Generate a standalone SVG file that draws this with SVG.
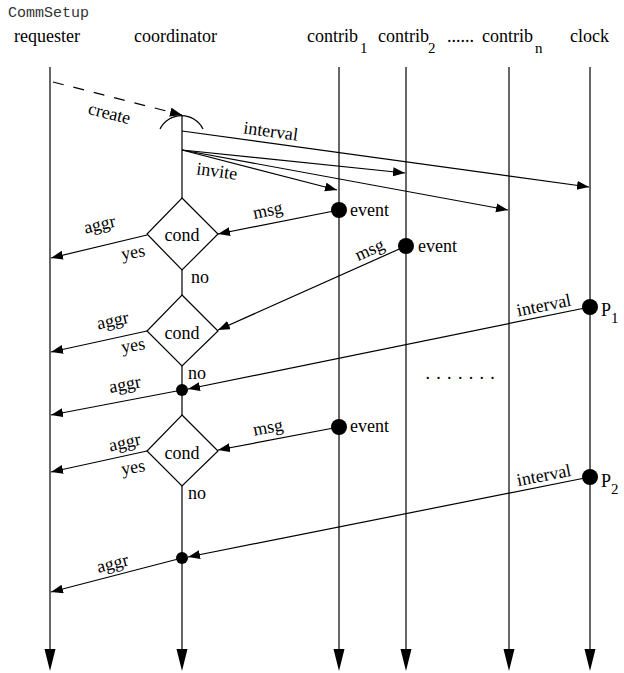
<svg xmlns="http://www.w3.org/2000/svg" width="624" height="673" viewBox="0 0 624 673">
<style>
  text { font-family: "Liberation Serif", "DejaVu Serif", "Times New Roman", Times, serif; font-size: 18px; fill: #000; }
  text.mono { font-family: "Liberation Mono", "DejaVu Sans Mono", "Courier New", monospace; font-size: 15px; fill: #333; }
  .sub { font-size: 15px; }
  .mid { text-anchor: middle; }
  .life { stroke: #000; stroke-width: 1.2; fill: none; }
  .msg { stroke: #000; stroke-width: 1.2; fill: none; marker-end: url(#ah); }
  .dash { stroke-dasharray: 11 10; }
  .dia { fill: #fff; stroke: #000; stroke-width: 1.2; }
  .dot { fill: #000; }
  .end { fill: #000; }
</style>
<defs>
  <marker id="ah" markerUnits="userSpaceOnUse" markerWidth="13" markerHeight="10" refX="12" refY="4.5" orient="auto">
    <path d="M0,0 L12,4.5 L0,9 z" fill="#000"/>
  </marker>
</defs>

<text class="mono" x="8" y="17">CommSetup</text>

<g id="requester">
  <text x="14" y="42">requester</text>
  <path class="life" d="M50,67 V652"/>
  <polygon class="end" points="44.5,649 55.5,649 50,671"/>
</g>
<g id="coordinator">
  <text x="134" y="42">coordinator</text>
  <path class="life" d="M182,115 V198 M182,270 V295 M182,366 V415 M182,486 V652"/>
  <polygon class="end" points="176.5,649 187.5,649 182,671"/>
</g>
<g id="contrib1">
  <text x="307" y="42">contrib</text><text class="sub" x="360" y="53">1</text>
  <path class="life" d="M339,67 V652"/>
  <polygon class="end" points="333.5,649 344.5,649 339,671"/>
</g>
<g id="contrib2">
  <text x="378" y="42">contrib</text><text class="sub" x="428" y="53">2</text>
  <path class="life" d="M406,67 V652"/>
  <polygon class="end" points="400.5,649 411.5,649 406,671"/>
</g>
<text x="447" y="42">......</text>
<g id="contribn">
  <text x="482" y="42">contrib</text><text class="sub" x="535" y="53">n</text>
  <path class="life" d="M509,67 V652"/>
  <polygon class="end" points="503.5,649 514.5,649 509,671"/>
</g>
<g id="clock">
  <text x="570" y="42">clock</text>
  <path class="life" d="M590,67 V652"/>
  <polygon class="end" points="584.5,649 595.5,649 590,671"/>
</g>

<g id="connectors">
  <path class="msg dash" d="M53,82 L182,115"/>
  <path class="life" d="M160,129 A24,24 0 0 1 203,129"/>
  <path class="msg" d="M182,131 L589,187"/>
  <path class="msg" d="M182,150 L337,190"/>
  <path class="msg" d="M182,150 L405,173"/>
  <path class="msg" d="M182,150 L508,210"/>
  <path class="msg" d="M147,235 L51,258"/>
  <path class="msg" d="M339,210 L218,234"/>
  <path class="msg" d="M406,246 L218,330"/>
  <path class="msg" d="M147,331 L51,352"/>
  <path class="msg" d="M590,307 L188,389"/>
  <path class="msg" d="M182,390 L51,415"/>
  <path class="msg" d="M339,427 L218,450"/>
  <path class="msg" d="M147,451 L51,472"/>
  <path class="msg" d="M590,477 L188,557"/>
  <path class="msg" d="M182,558 L51,592"/>
</g>

<g id="labels">
  <text class="mid" x="108" y="119" transform="rotate(14 108 119)">create</text>
  <text class="mid" x="270" y="137" transform="rotate(7.8 270 137)">interval</text>
  <text class="mid" x="216" y="177" transform="rotate(8 216 177)">invite</text>
  <text class="mid" x="101" y="230" transform="rotate(-13.3 101 230)">aggr</text>
  <text class="mid" x="269" y="216" transform="rotate(-11.7 269 216)">msg</text>
  <text class="mid" x="372" y="255" transform="rotate(-24.4 372 255)">msg</text>
  <text class="mid" x="114" y="326" transform="rotate(-12.2 114 326)">aggr</text>
  <text class="mid" x="545" y="311" transform="rotate(-11.5 545 311)">interval</text>
  <text class="mid" x="126" y="390" transform="rotate(-10.8 126 390)">aggr</text>
  <text class="mid" x="269" y="433" transform="rotate(-10.8 269 433)">msg</text>
  <text class="mid" x="126" y="448" transform="rotate(-12.3 126 448)">aggr</text>
  <text class="mid" x="545" y="481" transform="rotate(-11.1 545 481)">interval</text>
  <text class="mid" x="114" y="569" transform="rotate(-14.7 114 569)">aggr</text>
  <text x="425.5" y="378.5" letter-spacing="6.3">.......</text>
</g>

<g id="cond1">
  <polygon class="dia" points="182,198 218,234 182,270 147,234"/>
  <text class="mid" x="182" y="241">cond</text>
  <text class="mid" x="134" y="258" transform="rotate(-10 134 258)">yes</text>
  <text x="191" y="283">no</text>
</g>
<g id="cond2">
  <polygon class="dia" points="182,295 218,331 182,366 147,331"/>
  <text class="mid" x="182" y="339">cond</text>
  <text class="mid" x="134" y="351" transform="rotate(-10 134 351)">yes</text>
  <text x="188" y="379">no</text>
</g>
<g id="cond3">
  <polygon class="dia" points="182,415 218,451 182,486 147,451"/>
  <text class="mid" x="182" y="459">cond</text>
  <text class="mid" x="134" y="473" transform="rotate(-10 134 473)">yes</text>
  <text x="188" y="499">no</text>
</g>

<g id="event1"><circle class="dot" cx="339" cy="210" r="8"/><text x="350" y="216">event</text></g>
<g id="event2"><circle class="dot" cx="406" cy="246" r="8"/><text x="418" y="252">event</text></g>
<g id="event3"><circle class="dot" cx="339" cy="427" r="8"/><text x="350" y="432">event</text></g>
<g id="P1"><circle class="dot" cx="590" cy="307" r="8"/><text x="601" y="316">P</text><text class="sub" x="611" y="323">1</text></g>
<g id="P2"><circle class="dot" cx="590" cy="477" r="8"/><text x="601" y="487">P</text><text class="sub" x="611" y="494">2</text></g>
<g id="join1"><circle class="dot" cx="182" cy="390" r="6"/></g>
<g id="join2"><circle class="dot" cx="182" cy="558" r="6"/></g>
</svg>
